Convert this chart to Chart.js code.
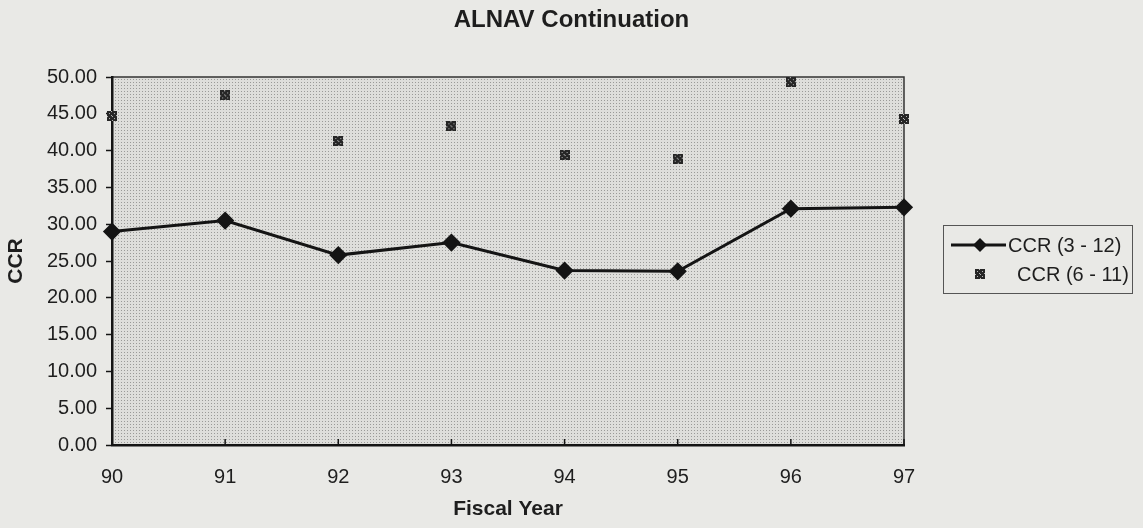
<!DOCTYPE html>
<html lang="en">
<head>
  <meta charset="UTF-8"/>
  <title>ALNAV Continuation</title>
  <script src="https://cdn.jsdelivr.net/npm/chart.js"></script>
  <style>
    body { margin: 0; background: #e9e9e6; }
    #wrap { width: 1143px; height: 528px; }
  </style>
</head>
<body>
  <div id="wrap"><canvas id="ccrChart" width="1143" height="528"></canvas></div>

  <script>
    // fiscal years and CCR values
    const years = ['90', '91', '92', '93', '94', '95', '96', '97'];
    const ccr3to12 = [29.0, 30.5, 25.8, 27.5, 23.7, 23.6, 32.1, 32.3];
    const ccr6to11 = [44.7, 47.5, 41.3, 43.3, 39.4, 38.9, 49.3, 44.3];
    const yTicks = { min: 0, max: 50, step: 5 };

    const pageBg = '#e9e9e6';
    const ink = '#141414';
    const font = 'Arial, "Liberation Sans", sans-serif';

    // small hatched square used as the marker of the second series
    function makeMarker() {
      const c = document.createElement('canvas');
      c.width = 10; c.height = 10;
      const g = c.getContext('2d');
      g.fillStyle = '#262626';
      g.fillRect(0, 0, 10, 10);
      g.fillStyle = '#b8b8b8';
      [[2, 2], [7, 2], [4, 4], [5, 5], [2, 7], [7, 7], [4, 0], [0, 5], [9, 4], [5, 9]].forEach(([x, y]) => g.fillRect(x, y, 1, 1));
      return c;
    }
    const hatchMarker = makeMarker();

    // stippled fill for the plot area
    function makeStipple(ctx) {
      const c = document.createElement('canvas');
      c.width = 3; c.height = 3;
      const g = c.getContext('2d');
      g.fillStyle = '#dededb';
      g.fillRect(0, 0, 3, 3);
      g.fillStyle = '#9a9a98';
      g.fillRect(1, 1, 1, 1);
      return ctx.createPattern(c, 'repeat');
    }

    const framePlugin = {
      id: 'frame',
      beforeDraw(chart) {
        const { ctx, chartArea: a } = chart;
        ctx.save();
        ctx.fillStyle = pageBg;
        ctx.fillRect(0, 0, chart.width, chart.height);
        ctx.fillStyle = makeStipple(ctx);
        ctx.fillRect(a.left, a.top, a.right - a.left, a.bottom - a.top);
        // thin top and right edges
        ctx.strokeStyle = '#333';
        ctx.lineWidth = 1.5;
        ctx.beginPath();
        ctx.moveTo(a.left, a.top);
        ctx.lineTo(a.right, a.top);
        ctx.lineTo(a.right, a.bottom);
        ctx.stroke();
        ctx.restore();
      },
      afterDraw(chart) {
        const { ctx, chartArea: a } = chart;
        const xs = chart.scales.x;
        ctx.save();
        // x ticks point up into the plot
        ctx.strokeStyle = ink;
        ctx.lineWidth = 1.5;
        years.forEach((_, i) => {
          const x = xs.getPixelForValue(i);
          ctx.beginPath();
          ctx.moveTo(x, a.bottom);
          ctx.lineTo(x, a.bottom - 6);
          ctx.stroke();
        });

        // title
        ctx.fillStyle = '#1e1e1e';
        ctx.font = 'bold 24px ' + font;
        ctx.textAlign = 'center';
        ctx.textBaseline = 'middle';
        ctx.fillText('ALNAV Continuation', chart.width / 2, 20);

        // legend
        const bx = 943.5, by = 225.5, bw = 189, bh = 68;
        ctx.fillStyle = pageBg;
        ctx.fillRect(bx, by, bw, bh);
        ctx.strokeStyle = '#555';
        ctx.lineWidth = 1;
        ctx.strokeRect(bx, by, bw, bh);

        const r1 = 245, r2 = 274;
        ctx.strokeStyle = ink;
        ctx.lineWidth = 3;
        ctx.beginPath();
        ctx.moveTo(951, r1);
        ctx.lineTo(1006, r1);
        ctx.stroke();
        ctx.fillStyle = ink;
        ctx.beginPath();
        ctx.moveTo(980, r1 - 7);
        ctx.lineTo(987, r1);
        ctx.lineTo(980, r1 + 7);
        ctx.lineTo(973, r1);
        ctx.closePath();
        ctx.fill();
        ctx.drawImage(hatchMarker, 975, r2 - 5);

        ctx.fillStyle = '#1e1e1e';
        ctx.font = '20px ' + font;
        ctx.textAlign = 'left';
        ctx.fillText('CCR (3 - 12)', 1008, r1 + 1);
        ctx.fillText('CCR (6 - 11)', 1017, r2 + 1);
        ctx.restore();
      }
    };

    const ctx = document.getElementById('ccrChart').getContext('2d');
    new Chart(ctx, {
      type: 'line',
      data: {
        labels: years,
        datasets: [{
          label: 'CCR (3 - 12)',
          data: ccr3to12,
          borderColor: ink,
          borderWidth: 3,
          tension: 0,
          pointStyle: 'rectRot',
          pointRadius: 7,
          pointBackgroundColor: ink,
          pointBorderColor: ink,
          clip: false
        }, {
          label: 'CCR (6 - 11)',
          data: ccr6to11,
          showLine: false,
          pointStyle: hatchMarker,
          pointRadius: 5,
          clip: false
        }]
      },
      options: {
        responsive: false,
        animation: false,
        layout: { padding: { top: 77, right: 239, left: 0, bottom: 0 } },
        plugins: {
          legend: { display: false },
          title: { display: false },
          tooltip: { enabled: false }
        },
        scales: {
          x: {
            offset: false,
            afterFit(s) { s.height = 83; },
            grid: { display: true, drawOnChartArea: false, drawTicks: false },
            border: { display: true, color: ink, width: 2.5 },
            ticks: { color: '#1e1e1e', font: { family: font, size: 20 }, padding: 20, maxRotation: 0 },
            title: {
              display: true, text: 'Fiscal Year', color: '#1e1e1e',
              font: { family: font, size: 21, weight: 'bold' },
              padding: { top: 0, bottom: 6 }
            }
          },
          y: {
            min: yTicks.min,
            max: yTicks.max,
            afterFit(s) { s.width = 112; },
            grid: { display: true, drawOnChartArea: false, tickLength: 6, color: ink, tickWidth: 1.5 },
            border: { display: true, color: ink, width: 2.5 },
            ticks: {
              stepSize: yTicks.step,
              color: '#1e1e1e',
              font: { family: font, size: 20 },
              padding: 9,
              callback: v => v.toFixed(2)
            },
            title: {
              display: true, text: 'CCR', color: '#1e1e1e',
              font: { family: font, size: 21, weight: 'bold' },
              padding: { top: 4, bottom: 0 }
            }
          }
        }
      },
      plugins: [framePlugin]
    });
  </script>
</body>
</html>
